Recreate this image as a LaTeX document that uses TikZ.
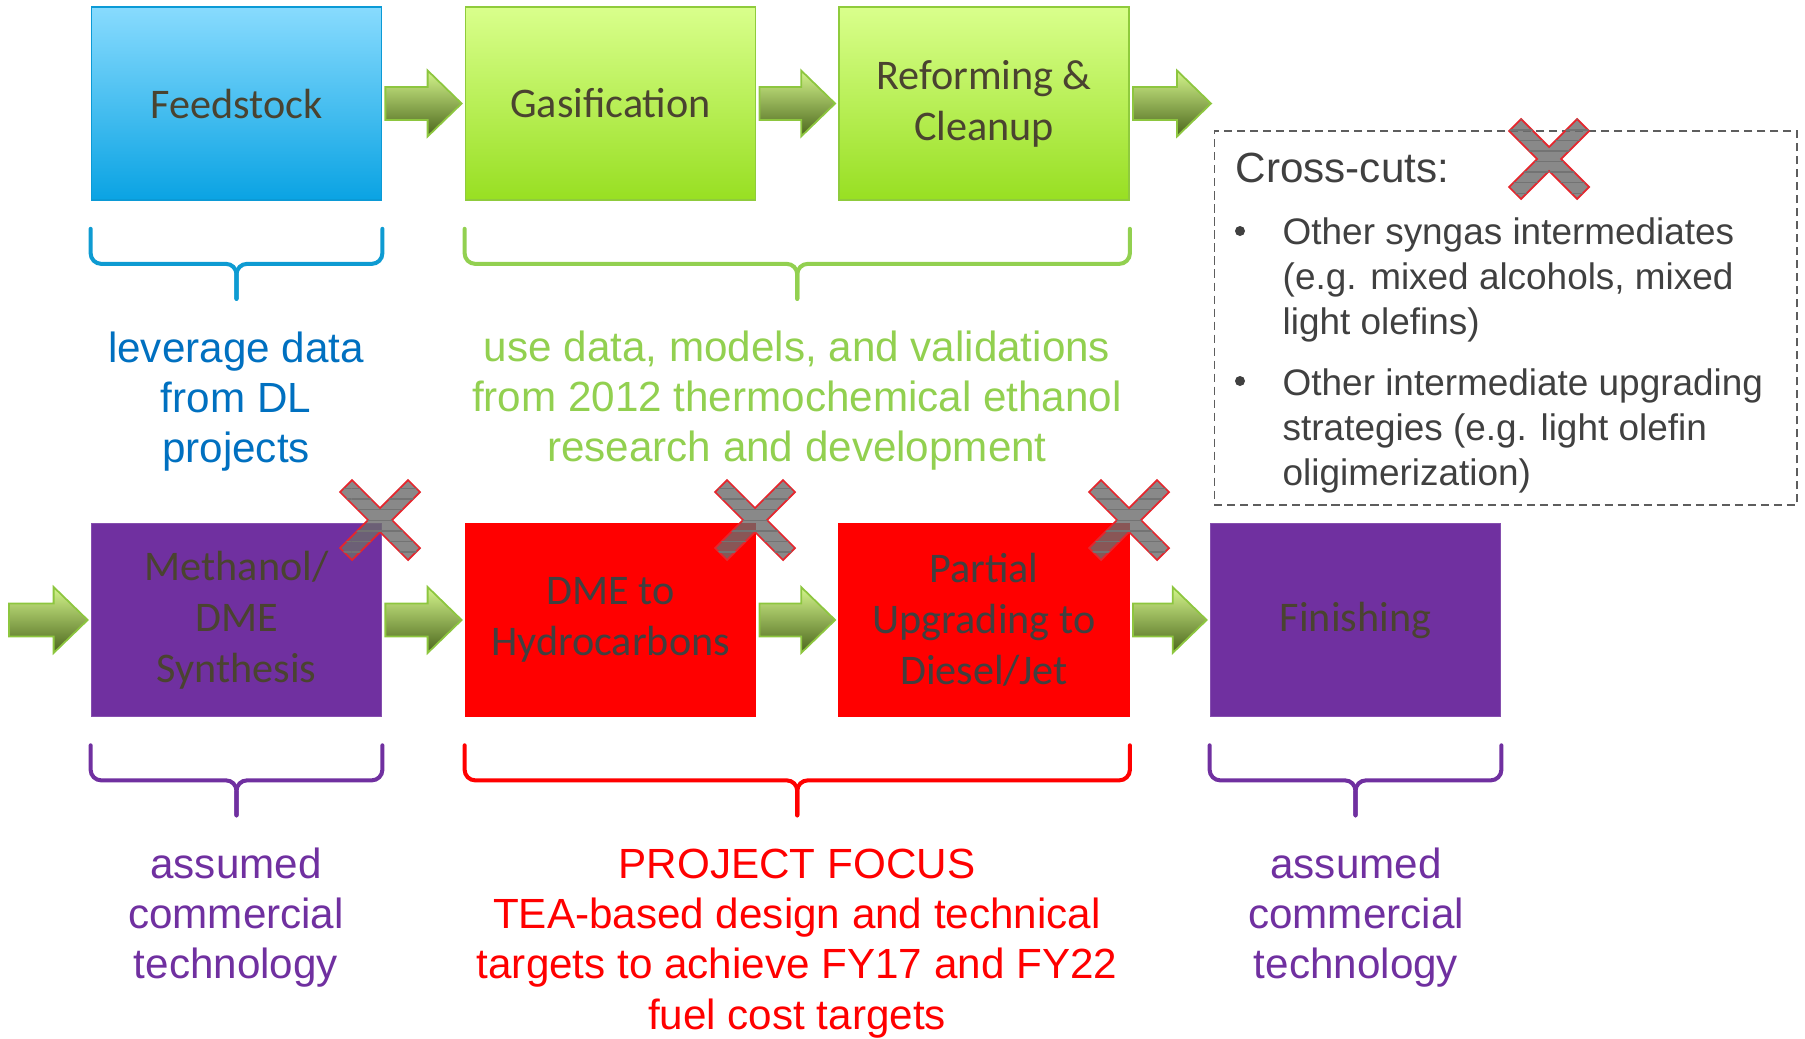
\documentclass[tikz,border=0pt]{standalone}
\usepackage{fontspec}
\setmainfont{Liberation Sans}
\newfontfamily\boxfont{Carlito}
\usetikzlibrary{calc, patterns}

\definecolor{feedtop}{HTML}{88DBFE}
\definecolor{feedbot}{HTML}{0AA3E3}
\definecolor{feedline}{HTML}{0B9AD6}
\definecolor{gastop}{HTML}{D9FF8C}
\definecolor{gasbot}{HTML}{98DF22}
\definecolor{gasline}{HTML}{8FCB3C}
\definecolor{arrtop}{HTML}{D4F58C}
\definecolor{arrbot}{HTML}{4B661C}
\definecolor{arrline}{HTML}{8DC63F}
\definecolor{focusred}{HTML}{FF0000}
\definecolor{commpurple}{HTML}{7030A0}
\definecolor{dlblue}{HTML}{0070C0}
\definecolor{bracketblue}{HTML}{0E9BD2}
\definecolor{leafgreen}{HTML}{92D050}
\definecolor{boxtext}{HTML}{4A4330}
\definecolor{graytext}{HTML}{404040}
\definecolor{xred}{HTML}{E5262D}

% block arrow between two anchors
\newcommand{\flowarrow}[2]{%
  \draw[flowarrow] ($(#1)+(3,-16.5)$) -- ($(#2)+(-37,-16.5)$) -- ($(#2)+(-37,-33)$)
    -- ($(#2)+(-3,0)$) -- ($(#2)+(-37,33)$) -- ($(#2)+(-37,16.5)$) -- ($(#1)+(3,16.5)$) -- cycle;}

% curly brace under a group of boxes
\newcommand{\stagebrace}[3]{%
  \path ($(#1)+(0,28)$) coordinate (bl) ($(#2)+(0,28)$) coordinate (br)
    ($(bl)!0.5!(br)+(0,35)$) coordinate (bh) ($(bh)+(0,35)$) coordinate (bt);
  \draw[stagebrace, draw=#3] (bl) -- (bl |- bh) -- (bh) -- (bt);
  \draw[stagebrace, draw=#3] (br) -- (br |- bh) -- (bh) -- (bt);}

\newcommand{\crossmark}[2]{%
  \begin{scope}[shift={(#1,#2)}]
    \draw[xmark] (0,12) -- (28,40) -- (40,28) -- (12,0) -- (40,-28) -- (28,-40) -- (0,-12)
      -- (-28,-40) -- (-40,-28) -- (-12,0) -- (-40,28) -- (-28,40) -- cycle;
  \end{scope}}

\begin{document}
\begin{tikzpicture}[x=0.01cm, y=-0.01cm,
    stage/.style={minimum width=2.9cm, minimum height=1.93cm, inner sep=0pt, align=center,
      font=\boxfont\fontsize{12}{14.5}\selectfont, text=boxtext, line width=0.45pt},
    feedbox/.style={stage, top color=feedtop, bottom color=feedbot, draw=feedline},
    greenbox/.style={stage, top color=gastop, bottom color=gasbot, draw=gasline},
    redbox/.style={stage, fill=focusred, draw=focusred, text=graytext},
    purplebox/.style={stage, fill=commpurple, draw=commpurple!85!white},
    flowarrow/.style={top color=arrtop, bottom color=arrbot, draw=arrline, line width=0.5pt},
    stagebrace/.style={line width=1.15pt, rounded corners=3pt, line cap=round},
    note/.style={inner sep=0pt, align=center, anchor=north, font=\fontsize{12}{14.3}\selectfont},
    item/.style={inner sep=0pt, align=left, anchor=north west, text=graytext,
      font=\fontsize{10.5}{12.8}\selectfont},
    dot/.style={circle, fill=graytext, inner sep=0pt, minimum size=0.1cm},
    crossbox/.style={draw=graytext!85, dash pattern=on 2.3pt off 1.4pt, line width=0.45pt,
      minimum width=5.825cm, minimum height=3.74cm},
    xmark/.style={fill=gray!85!black, fill opacity=0.8, draw=xred, line width=0.5pt,
      postaction={pattern=horizontal lines, pattern color=black!55}}]
  \useasboundingbox (0,0) rectangle (1805,1039);

  \coordinate (out1) at (1214,103.5);
  \coordinate (in2) at (6,620);

  \node[feedbox] (feed) at (236.5,103.5) {Feedstock};
  \node[greenbox] (gas) at (610.5,103.5) {Gasification};
  \node[greenbox] (reform) at (984,103.5) {Reforming \&\\Cleanup};

  \node[purplebox] (meth) at (236.5,620) {Methanol/\\DME\\Synthesis};
  \node[redbox] (dme) at (610.5,620) {DME to\\Hydrocarbons};
  \node[redbox] (partial) at (984,620) {Partial\\Upgrading to\\Diesel/Jet};
  \node[purplebox] (finish) at (1355.5,620) {Finishing};

  \flowarrow{feed.east}{gas.west}
  \flowarrow{gas.east}{reform.west}
  \flowarrow{reform.east}{out1}
  \flowarrow{in2}{meth.west}
  \flowarrow{meth.east}{dme.west}
  \flowarrow{dme.east}{partial.west}
  \flowarrow{partial.east}{finish.west}

  \stagebrace{feed.south west}{feed.south east}{bracketblue}
  \stagebrace{gas.south west}{reform.south east}{leafgreen}
  \stagebrace{meth.south west}{meth.south east}{commpurple}
  \stagebrace{dme.south west}{partial.south east}{focusred}
  \stagebrace{finish.south west}{finish.south east}{commpurple}

  \node[note, text=dlblue] (dlnote) at (236,331) {leverage data\\from DL\\projects};
  \node[note, text=leafgreen] (tcnote) at (797,330) {use data, models, and validations\\from 2012 thermochemical ethanol\\research and development};
  \node[note, text=commpurple] (commnote) at (236,847) {assumed\\commercial\\technology};
  \node[note, text=focusred] (focusnote) at (797,848) {PROJECT FOCUS\\TEA-based design and technical\\targets to achieve FY17 and FY22\\fuel cost targets};
  \node[note, text=commpurple] (finnote) at (1356,847) {assumed\\commercial\\technology};

  \node[crossbox] (xcut) at (1505.75,318) {};
  \node[anchor=base west, inner sep=0pt, text=graytext, font=\fontsize{12}{14.3}\selectfont] (xtitle) at (1235,182) {Cross-cuts:};
  \node[dot] (dot1) at (1240,231) {};
  \node[item] (item1) at (1282,217) {Other syngas intermediates\\(e.g. mixed alcohols, mixed\\light olefins)};
  \node[dot] (dot2) at (1240,381) {};
  \node[item] (item2) at (1282,368) {Other intermediate upgrading\\strategies (e.g. light olefin\\oligimerization)};

  \crossmark{380}{520}
  \crossmark{755}{520}
  \crossmark{1129}{520}
  \crossmark{1549}{159}
\end{tikzpicture}
\end{document}
